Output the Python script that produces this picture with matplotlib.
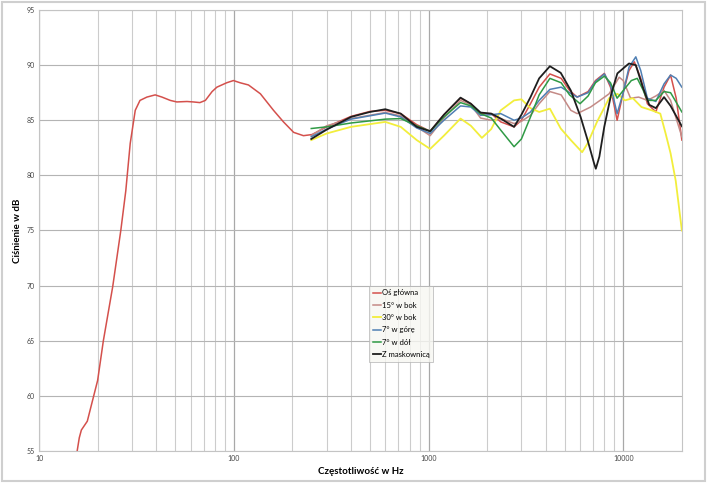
import matplotlib
matplotlib.use('Agg')
import matplotlib.pyplot as plt
from matplotlib.ticker import FixedLocator, NullFormatter
from matplotlib.patches import Rectangle

plt.rcParams['font.family'] = ['Lato', 'DejaVu Sans']

# Oś główna (red) - full range
red_f = [15.7, 16.1, 16.5, 17.7, 19.0, 20.0, 21.4, 23.9, 26.3, 27.9, 29.4, 31.2, 33.0, 35.8,
         39.5, 42.8, 47.2, 51, 57.5, 62, 67, 71.5, 77.4, 81.9, 92, 99.6, 107.8, 119, 137,
         160, 180, 203, 228, 252, 300, 400, 500, 600, 720, 870, 1020, 1200, 1460, 1650,
         1850, 2100, 2350, 2750, 3000, 3340, 3700, 4200, 4800, 5300, 5800, 6600, 7200,
         8000, 8600, 9300, 10000, 10700, 11400, 12300, 13300, 14700, 16200, 17500, 18700, 20000]
red_db = [55, 56.2, 56.9, 57.7, 59.85, 61.4, 65, 69.9, 75, 78.6, 82.9, 85.9, 86.8, 87.1,
          87.3, 87.1, 86.8, 86.66, 86.7, 86.66, 86.6, 86.8, 87.6, 88.0, 88.4, 88.6, 88.4, 88.2, 87.4,
          85.9, 84.85, 83.9, 83.6, 83.7, 84.4, 85.35, 85.8, 85.9, 85.6, 84.6, 84.0, 85.5, 87.0, 86.5,
          85.6, 85.6, 84.85, 84.4, 85.0, 86.5, 88.0, 89.2, 88.8, 87.7, 87.1, 87.6, 88.6,
          89.25, 88.0, 85.0, 87.5, 89.5, 90.3, 88.8, 86.5, 85.75, 88.0, 89.1, 87.0, 83.2]

# 15° w bok (rosy)
pink_f = [250, 300, 400, 600, 720, 870, 1020, 1200, 1460, 1650, 1850, 2100, 2350, 2750, 3000,
          3340, 3700, 4200, 4800, 5380, 5800, 6800, 7600, 8460, 9530, 10000, 10900, 12000,
          13300, 14700, 16200, 17500, 20000]
pink_db = [83.6, 84.5, 85.15, 85.7, 85.4, 84.4, 83.6, 85.2, 86.8, 86.4, 85.2, 85.0, 85.15, 84.7, 84.9,
           85.45, 86.5, 87.6, 87.3, 85.9, 85.6, 86.2, 86.8, 87.4, 88.9, 88.6, 87.0, 87.1,
           86.8, 87.2, 87.7, 86.8, 83.5]

# 30° w bok (yellow)
yel_f = [250, 300, 400, 600, 720, 870, 1020, 1200, 1460, 1650, 1880, 2100, 2350, 2750, 3000,
         3340, 3700, 4200, 4775, 5380, 6150, 6560, 7330, 8460, 9330, 10200, 11200, 12400,
         14000, 15500, 16500, 17500, 18600, 20000]
yel_db = [83.2, 83.8, 84.4, 84.85, 84.4, 83.2, 82.4, 83.6, 85.15, 84.5, 83.4, 84.2, 85.9, 86.8, 86.9,
          86.1, 85.75, 86.05, 84.25, 83.2, 82.1, 82.9, 84.85, 87.0, 87.4, 86.8, 87.0, 86.2,
          85.9, 85.6, 83.8, 82.0, 79.5, 75.0]

# 7° w górę (blue)
blue_f = [250, 300, 400, 600, 720, 870, 1020, 1200, 1460, 1650, 1850, 2100, 2350, 2750, 3000,
          3340, 3700, 4200, 4800, 5300, 5800, 6600, 7200, 8000, 8600, 9300, 10000, 10700,
          11600, 12300, 13300, 14700, 16200, 17500, 18700, 20000]
blue_db = [83.5, 84.2, 85.1, 85.65, 85.3, 84.3, 83.8, 85.0, 86.3, 86.2, 85.45, 85.5, 85.6, 85.0, 85.2,
           85.75, 86.8, 87.8, 88.0, 87.5, 87.1, 87.5, 88.5, 89.2, 88.2, 85.6, 87.5, 89.8,
           90.75, 89.5, 87.0, 86.7, 88.3, 89.1, 88.8, 88.0]

# 7° w dół (green)
green_f = [250, 300, 400, 600, 720, 870, 1020, 1200, 1460, 1650, 1850, 2100, 2350, 2750, 3000,
           3340, 3700, 4200, 4800, 5300, 6000, 6600, 7200, 8000, 8600, 9300, 10000, 11000,
           11800, 12600, 13300, 14700, 16200, 17500, 20000]
green_db = [84.25, 84.4, 84.75, 85.1, 85.15, 84.5, 84.0, 85.3, 86.6, 86.3, 85.6, 85.2, 84.1, 82.6, 83.3,
            85.3, 87.3, 88.8, 88.4, 87.3, 86.5, 87.2, 88.4, 89.0, 88.4, 87.0, 87.7, 88.6,
            88.8, 87.8, 86.8, 86.8, 87.6, 87.5, 85.75]

# Z maskownicą (black)
black_f = [250, 300, 400, 500, 600, 720, 870, 1020, 1200, 1460, 1650, 1850, 2100, 2350, 2750, 3000,
           3340, 3700, 4200, 4775, 5380, 6040, 6560, 7080, 7230, 7540, 7990, 8680, 9330,
           10700, 11600, 12600, 13600, 14700, 16200, 17500, 20000]
black_db = [83.3, 84.15, 85.3, 85.75, 86.0, 85.6, 84.4, 84.0, 85.5, 87.05, 86.5, 85.7, 85.6, 85.15, 84.4, 85.5,
            87.1, 88.8, 89.9, 89.3, 87.7, 85.3, 83.2, 81.1, 80.6, 81.7, 84.4, 87.4, 89.25,
            90.15, 90.0, 88.0, 86.4, 86.1, 87.1, 86.3, 84.45]

series = [
    ('Oś główna', red_f, red_db, '#d4504c', 1.1),
    ('15° w bok', pink_f, pink_db, '#c48a86', 1.1),
    ('30° w bok', yel_f, yel_db, '#f2ee3c', 1.3),
    ('7° w górę', blue_f, blue_db, '#4f7fb3', 1.1),
    ('7° w dół', green_f, green_db, '#2f9a45', 1.1),
    ('Z maskownicą', black_f, black_db, '#1e1e1e', 1.3),
]

fig = plt.figure(figsize=(7.08, 4.83), dpi=100)
fig.patch.set_facecolor('white')
fig.patches.append(Rectangle((0.003, 0.004), 0.993, 0.991, transform=fig.transFigure,
                             fill=False, edgecolor='#cfcfcf', linewidth=1.5))

ax = fig.add_axes([0.0551, 0.0663, 0.908, 0.913])
ax.set_xscale('log')
ax.set_xlim(10, 20000)
ax.set_ylim(55, 95)

minor = [m * d for d in (10, 100, 1000, 10000) for m in range(2, 10) if m * d < 20000]
ax.xaxis.set_major_locator(FixedLocator([10, 100, 1000, 10000]))
ax.xaxis.set_minor_locator(FixedLocator(minor))
ax.xaxis.set_minor_formatter(NullFormatter())
ax.set_xticklabels(['10', '100', '1000', '10000'])
ax.set_yticks(range(55, 96, 5))

ax.grid(which='major', axis='x', color='#a8a8a8', linewidth=0.9)
ax.grid(which='minor', axis='x', color='#cccccc', linewidth=0.8)
ax.grid(which='major', axis='y', color='#b4b4b4', linewidth=0.8)
ax.set_axisbelow(True)
ax.tick_params(which='both', length=0, labelsize=5, colors='#444444', pad=3)
for s in ax.spines.values():
    s.set_color('#c4c4c4')
    s.set_linewidth(0.8)

for name, f, db, col, lw in series:
    ax.plot(f, db, color=col, linewidth=lw, label=name, solid_joinstyle='round')

ax.set_xlabel('Częstotliwość w Hz', fontsize=7, fontweight='bold')
ax.set_ylabel('Ciśnienie w dB', fontsize=7, fontweight='bold')
ax.xaxis.set_label_coords(0.5, -0.036)
ax.yaxis.set_label_coords(-0.027, 0.5)

leg = ax.legend(loc='upper left', bbox_to_anchor=(0.514, 0.375), fontsize=5.5,
                frameon=True, fancybox=False, handlelength=1.0, handletextpad=0.1,
                labelspacing=0.7, borderpad=0.5, borderaxespad=0)
leg.get_frame().set_facecolor('#f7f7f2')
leg.get_frame().set_edgecolor('#b0b0b0')
leg.get_frame().set_linewidth(0.6)

fig.savefig('out.png', dpi=100)
